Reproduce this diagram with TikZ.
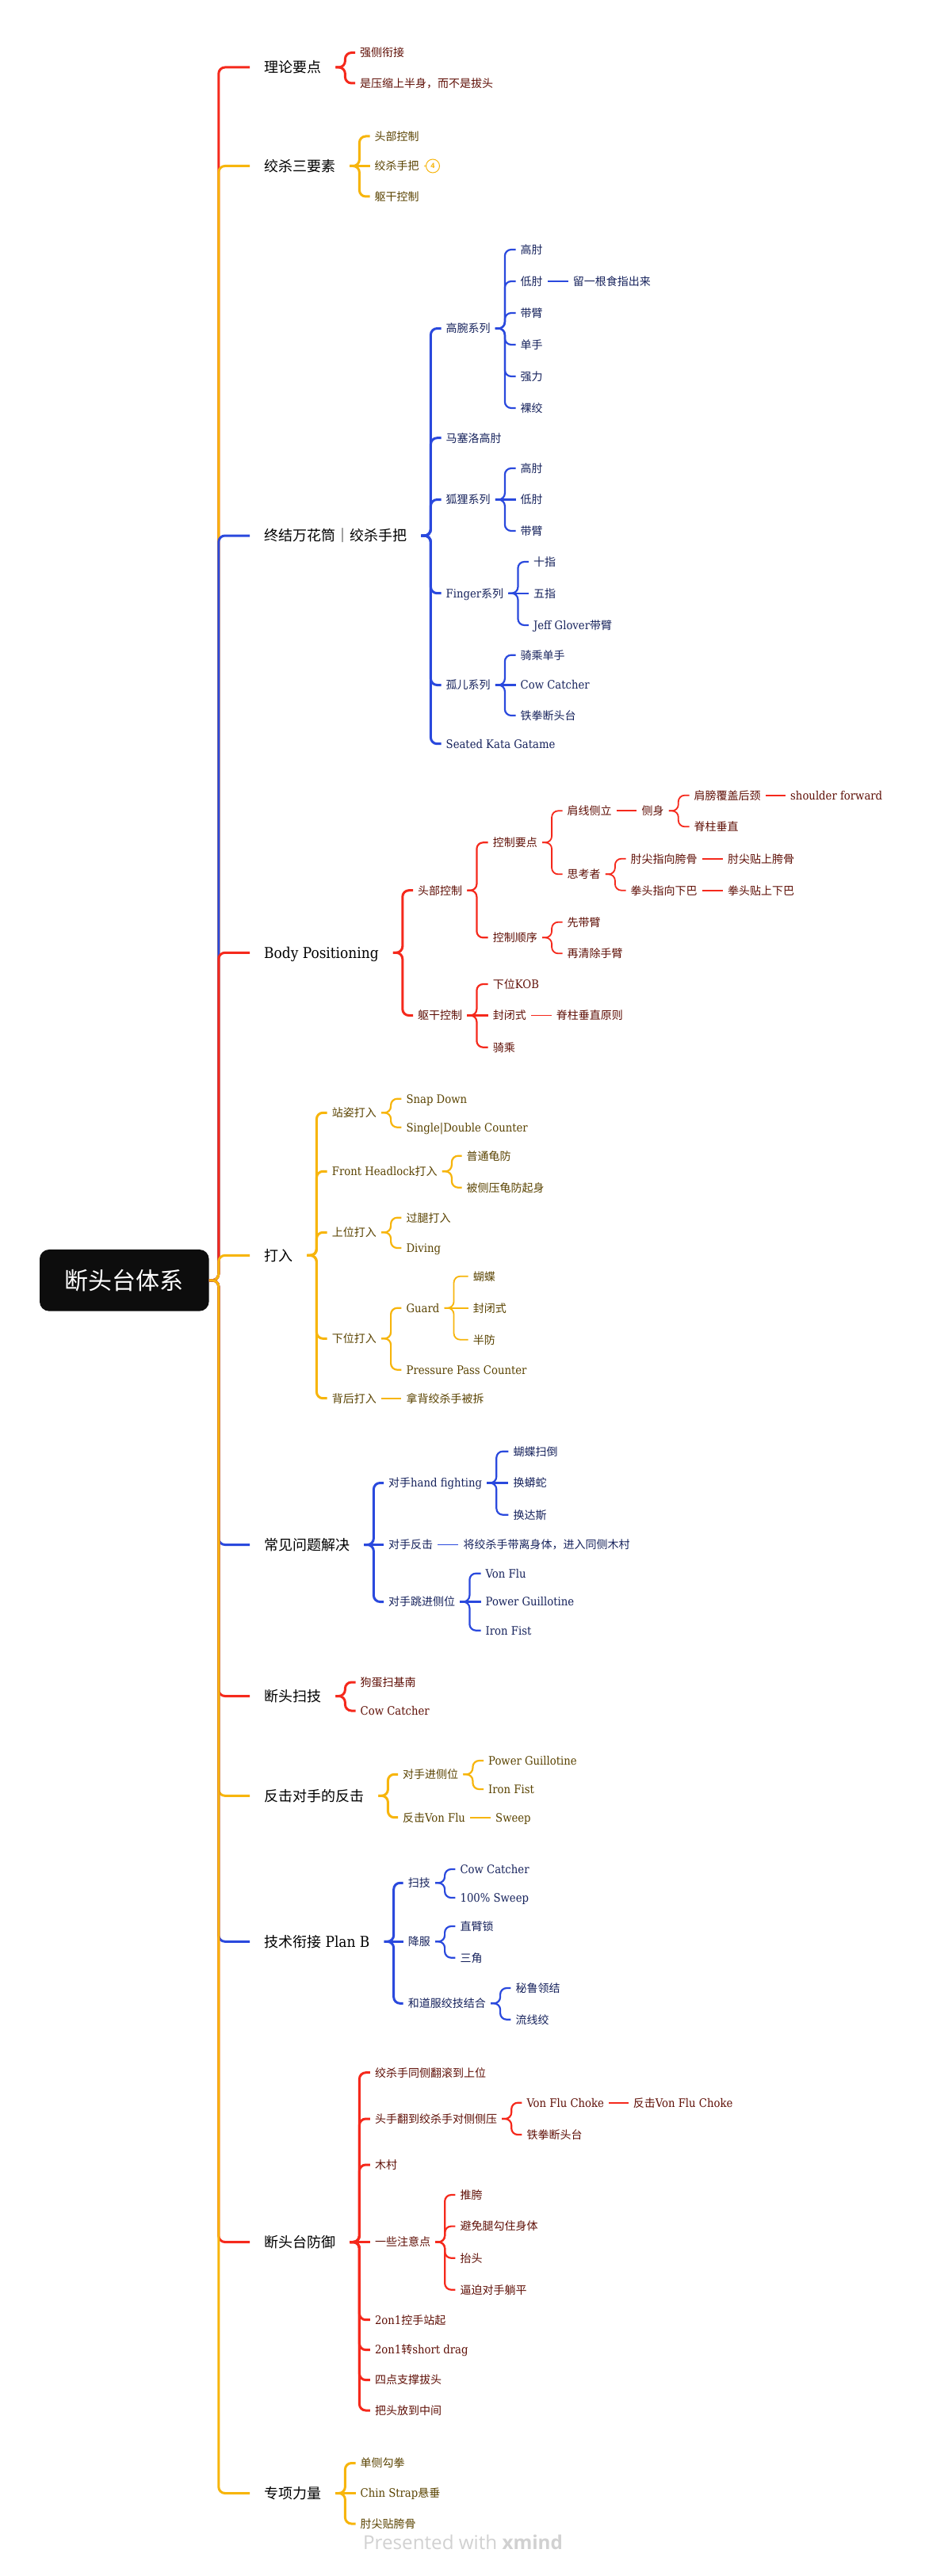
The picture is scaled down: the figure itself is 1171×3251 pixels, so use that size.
\documentclass[tikz,border=0pt]{standalone}
\usepackage{fontspec}
\setmainfont{Noto Sans CJK SC}
\newfontfamily\latfont[Scale=1.05]{DejaVu Serif Condensed}
\newfontfamily\wmfont{Open Sans}
\newcommand{\lat}[1]{{\latfont #1}}
\definecolor{cR}{HTML}{F5291C}
\definecolor{cY}{HTML}{F7B50C}
\definecolor{cB}{HTML}{2A49DD}
\definecolor{tR}{HTML}{5F0F06}
\definecolor{tY}{HTML}{5A4300}
\definecolor{tB}{HTML}{16225C}
\tikzset{
 sub/.style={anchor=west,inner xsep=6pt,inner ysep=0pt,font=\fontsize{14}{16}\selectfont,text height=12.3pt,text depth=1.7pt},
 lvA/.style={anchor=west,inner xsep=18pt,inner ysep=0pt,font=\fontsize{18}{20}\selectfont,text height=15.8pt,text depth=2.2pt,text=black},
 nR/.style={sub,text=tR}, nY/.style={sub,text=tY}, nB/.style={sub,text=tB},
 wA/.style={line width=3pt,rounded corners=8pt},
 wB/.style={line width=2.2pt,rounded corners=8pt},
 wC/.style={line width=1.8pt,rounded corners=8pt},
 rootbox/.style={fill=black!95,rounded corners=12pt,text=white,minimum width=213.6pt,minimum height=77.7pt,inner sep=0pt,font=\fontsize{30}{34}\selectfont},
 badge/.style={circle,draw=cY,line width=1pt,minimum size=17pt,inner sep=0pt,text=cY,font=\wmfont\bfseries\fontsize{9}{10}\selectfont},
}
\newcommand{\cn}[3]{\draw[#1] (#2.east) -- ++(12,0) |- (#3.west);}
\newcommand{\sn}[3]{\draw[#1] (#2.east) -- (#3.west);}
\begin{document}
\begin{tikzpicture}[x=1pt,y=-1pt]
\path[use as bounding box,fill=white] (0,0) rectangle (1171,3251);
\node[rootbox] (root) at (156.8,1615.8) {断头台体系};
% level 1
\node[lvA] (a) at (315,85) {理论要点};
\node[lvA] (b) at (315,209.5) {绞杀三要素};
\node[lvA] (c) at (315,676) {终结万花筒｜绞杀手把};
\node[lvA] (d) at (315,1202.3) {\lat{Body Positioning}};
\node[lvA] (e) at (315,1584.3) {打入};
\node[lvA] (f) at (315,1949.5) {常见问题解决};
\node[lvA] (g) at (315,2140.5) {断头扫技};
\node[lvA] (h) at (315,2266.3) {反击对手的反击};
\node[lvA] (i) at (315,2450.3) {技术衔接\lat{ Plan B}};
\node[lvA] (j) at (315,2829.5) {断头台防御};
\node[lvA] (k) at (315,3146.5) {专项力量};
\cn{cR,wA}{root}{a}
\cn{cY,wA}{root}{b}
\cn{cB,wA}{root}{c}
\cn{cR,wA}{root}{d}
\cn{cY,wA}{root}{e}
\cn{cB,wA}{root}{f}
\cn{cR,wA}{root}{g}
\cn{cY,wA}{root}{h}
\cn{cB,wA}{root}{i}
\cn{cR,wA}{root}{j}
\cn{cY,wA}{root}{k}
% a
\node[nR] (a1) at (448,66.5) {强侧衔接};
\node[nR] (a2) at (448,105) {是压缩上半身，而不是拔头};
\cn{cR,wA}{a}{a1}\cn{cR,wA}{a}{a2}
% b
\node[nY] (b1) at (466.5,172) {头部控制};
\node[nY] (b2) at (466.5,209.5) {绞杀手把};
\node[nY] (b3) at (466.5,248) {躯干控制};
\node[badge] (bd) at (546,209.5) {4};
\cn{cY,wA}{b}{b1}\sn{cY,wA}{b}{b2}\cn{cY,wA}{b}{b3}
\sn{cY,line width=1.5pt}{b2}{bd}
% c
\node[nB] (c1) at (556.5,414.5) {高腕系列};
\node[nB] (c2) at (556.5,552.7) {马塞洛高肘};
\node[nB] (c3) at (556.5,630.5) {狐狸系列};
\node[nB] (c4) at (556.5,748.7) {\lat{Finger}系列};
\node[nB] (c5) at (556.5,864.5) {孤儿系列};
\node[nB] (c6) at (556.5,938.7) {\lat{Seated Kata Gatame}};
\foreach \n in {c1,c2,c3,c4,c5,c6}{\cn{cB,wA}{c}{\n}}
\node[nB] (c11) at (650.5,315) {高肘};
\node[nB] (c12) at (650.5,355) {低肘};
\node[nB] (c13) at (650.5,395) {带臂};
\node[nB] (c14) at (650.5,435) {单手};
\node[nB] (c15) at (650.5,475) {强力};
\node[nB] (c16) at (650.5,515) {裸绞};
\node[nB] (c121) at (716.7,355) {留一根食指出来};
\foreach \n in {c11,c12,c13,c14,c15,c16}{\cn{cB,wB}{c1}{\n}}
\sn{cB,wC}{c12}{c121}
\node[nB] (c31) at (650.5,591) {高肘};
\node[nB] (c32) at (650.5,630.5) {低肘};
\node[nB] (c33) at (650.5,670) {带臂};
\cn{cB,wB}{c3}{c31}\sn{cB,wB}{c3}{c32}\cn{cB,wB}{c3}{c33}
\node[nB] (c41) at (666.8,709) {十指};
\node[nB] (c42) at (666.8,748.7) {五指};
\node[nB] (c43) at (666.8,789) {\lat{Jeff Glover}带臂};
\cn{cB,wB}{c4}{c41}\sn{cB,wB}{c4}{c42}\cn{cB,wB}{c4}{c43}
\node[nB] (c51) at (650.5,826.7) {骑乘单手};
\node[nB] (c52) at (650.5,864.5) {\lat{Cow Catcher}};
\node[nB] (c53) at (650.5,903) {铁拳断头台};
\cn{cB,wB}{c5}{c51}\sn{cB,wB}{c5}{c52}\cn{cB,wB}{c5}{c53}
% d
\node[nR] (d1) at (521,1123.7) {头部控制};
\node[nR] (d2) at (521,1281.5) {躯干控制};
\cn{cR,wA}{d}{d1}\cn{cR,wA}{d}{d2}
\node[nR] (d11) at (615.7,1063.3) {控制要点};
\node[nR] (d12) at (615.7,1183.3) {控制顺序};
\cn{cR,wB}{d1}{d11}\cn{cR,wB}{d1}{d12}
\node[nR] (d111) at (709.5,1023.3) {肩线侧立};
\node[nR] (d112) at (709.5,1103.3) {思考者};
\cn{cR,wC}{d11}{d111}\cn{cR,wC}{d11}{d112}
\node[nR] (d1111) at (803.4,1023.3) {侧身};
\sn{cR,wC}{d111}{d1111}
\node[nR] (d11111) at (869.5,1003.7) {肩膀覆盖后颈};
\node[nR] (d11112) at (869.5,1043.3) {脊柱垂直};
\cn{cR,wC}{d1111}{d11111}\cn{cR,wC}{d1111}{d11112}
\node[nR] (sf) at (991,1003.7) {\lat{shoulder forward}};
\sn{cR,wC}{d11111}{sf}
\node[nR] (d1121) at (789.5,1083.7) {肘尖指向胯骨};
\node[nR] (d1122) at (789.5,1123.7) {拳头指向下巴};
\cn{cR,wC}{d112}{d1121}\cn{cR,wC}{d112}{d1122}
\node[nR] (d11211) at (911.8,1083.7) {肘尖贴上胯骨};
\node[nR] (d11221) at (911.8,1123.7) {拳头贴上下巴};
\sn{cR,wC}{d1121}{d11211}\sn{cR,wC}{d1122}{d11221}
\node[nR] (d121) at (709.5,1163.7) {先带臂};
\node[nR] (d122) at (709.5,1203.3) {再清除手臂};
\cn{cR,wC}{d12}{d121}\cn{cR,wC}{d12}{d122}
\node[nR] (d21) at (615.7,1242) {下位\lat{KOB}};
\node[nR] (d22) at (615.7,1281.5) {封闭式};
\node[nR] (d23) at (615.7,1321.7) {骑乘};
\cn{cR,wB}{d2}{d21}\sn{cR,wB}{d2}{d22}\cn{cR,wB}{d2}{d23}
\node[nR] (d221) at (695.7,1281.5) {脊柱垂直原则};
\sn{cR,wC}{d22}{d221}
% e
\node[nY] (e1) at (412.7,1404.3) {站姿打入};
\node[nY] (e2) at (412.7,1478.3) {\lat{Front Headlock}打入};
\node[nY] (e3) at (412.7,1555.3) {上位打入};
\node[nY] (e4) at (412.7,1689.3) {下位打入};
\node[nY] (e5) at (412.7,1764.7) {背后打入};
\foreach \n in {e1,e2,e3,e4,e5}{\cn{cY,wA}{e}{\n}}
\node[nY] (e11) at (506.4,1386.7) {\lat{Snap Down}};
\node[nY] (e12) at (506.4,1422.7) {\lat{Single|Double Counter}};
\cn{cY,wB}{e1}{e11}\cn{cY,wB}{e1}{e12}
\node[nY] (e21) at (582.5,1458.7) {普通龟防};
\node[nY] (e22) at (582.5,1498.7) {被侧压龟防起身};
\cn{cY,wB}{e2}{e21}\cn{cY,wB}{e2}{e22}
\node[nY] (e31) at (506.4,1536.7) {过腿打入};
\node[nY] (e32) at (506.4,1575) {\lat{Diving}};
\cn{cY,wB}{e3}{e31}\cn{cY,wB}{e3}{e32}
\node[nY] (e41) at (506.4,1650.7) {\lat{Guard}};
\node[nY] (e42) at (506.4,1728.7) {\lat{Pressure Pass Counter}};
\cn{cY,wB}{e4}{e41}\cn{cY,wB}{e4}{e42}
\node[nY] (e411) at (590.7,1610.7) {蝴蝶};
\node[nY] (e412) at (590.7,1650.7) {封闭式};
\node[nY] (e413) at (590.7,1690.7) {半防};
\cn{cY,wC}{e41}{e411}\sn{cY,wC}{e41}{e412}\cn{cY,wC}{e41}{e413}
\node[nY] (e51) at (506.4,1764.7) {拿背绞杀手被拆};
\sn{cY,wB}{e5}{e51}
% f
\node[nB] (f1) at (484,1871.5) {对手\lat{hand fighting}};
\node[nB] (f2) at (484,1949.5) {对手反击};
\node[nB] (f3) at (484,2021.5) {对手跳进侧位};
\cn{cB,wA}{f}{f1}\sn{cB,wA}{f}{f2}\cn{cB,wA}{f}{f3}
\node[nB] (f11) at (641.3,1831.7) {蝴蝶扫倒};
\node[nB] (f12) at (641.3,1871.5) {换蟒蛇};
\node[nB] (f13) at (641.3,1911.7) {换达斯};
\cn{cB,wB}{f1}{f11}\sn{cB,wB}{f1}{f12}\cn{cB,wB}{f1}{f13}
\node[nB] (f21) at (578.4,1949.5) {将绞杀手带离身体，进入同侧木村};
\sn{cB,wC}{f2}{f21}
\node[nB] (f31) at (606.5,1985.7) {\lat{Von Flu}};
\node[nB] (f32) at (606.5,2021.5) {\lat{Power Guillotine}};
\node[nB] (f33) at (606.5,2057.7) {\lat{Iron Fist}};
\cn{cB,wB}{f3}{f31}\sn{cB,wB}{f3}{f32}\cn{cB,wB}{f3}{f33}
% g
\node[nR] (g1) at (448.5,2123) {狗蛋扫基南};
\node[nR] (g2) at (448.5,2159) {\lat{Cow Catcher}};
\cn{cR,wA}{g}{g1}\cn{cR,wA}{g}{g2}
% h
\node[nY] (h1) at (502,2239.3) {对手进侧位};
\node[nY] (h2) at (502,2293.7) {反击\lat{Von Flu}};
\cn{cY,wA}{h}{h1}\cn{cY,wA}{h}{h2}
\node[nY] (h11) at (610,2222) {\lat{Power Guillotine}};
\node[nY] (h12) at (610,2258) {\lat{Iron Fist}};
\cn{cY,wB}{h1}{h11}\cn{cY,wB}{h1}{h12}
\node[nY] (h21) at (619,2293.7) {\lat{Sweep}};
\sn{cY,wC}{h2}{h21}
% i
\node[nB] (i1) at (508.7,2376.3) {扫技};
\node[nB] (i2) at (508.7,2450.3) {降服};
\node[nB] (i3) at (508.7,2528.3) {和道服绞技结合};
\cn{cB,wA}{i}{i1}\sn{cB,wA}{i}{i2}\cn{cB,wA}{i}{i3}
\node[nB] (i11) at (574.4,2359) {\lat{Cow Catcher}};
\node[nB] (i12) at (574.4,2395) {\lat{100\% Sweep}};
\cn{cB,wB}{i1}{i11}\cn{cB,wB}{i1}{i12}
\node[nB] (i21) at (574.4,2431) {直臂锁};
\node[nB] (i22) at (574.4,2470.7) {三角};
\cn{cB,wB}{i2}{i21}\cn{cB,wB}{i2}{i22}
\node[nB] (i31) at (644.4,2509) {秘鲁领结};
\node[nB] (i32) at (644.4,2548.7) {流线绞};
\cn{cB,wB}{i3}{i31}\cn{cB,wB}{i3}{i32}
% j
\node[nR] (j1) at (466.8,2615.7) {绞杀手同侧翻滚到上位};
\node[nR] (j2) at (466.8,2674) {头手翻到绞杀手对侧侧压};
\node[nR] (j3) at (466.8,2732) {木村};
\node[nR] (j4) at (466.8,2829.5) {一些注意点};
\node[nR] (j5) at (466.8,2927.7) {\lat{2on1}控手站起};
\node[nR] (j6) at (466.8,2965.6) {\lat{2on1}转\lat{short drag}};
\node[nR] (j7) at (466.8,3003.6) {四点支撑拔头};
\node[nR] (j8) at (466.8,3042) {把头放到中间};
\cn{cR,wA}{j}{j1}\cn{cR,wA}{j}{j2}\cn{cR,wA}{j}{j3}\sn{cR,wA}{j}{j4}
\cn{cR,wA}{j}{j5}\cn{cR,wA}{j}{j6}\cn{cR,wA}{j}{j7}\cn{cR,wA}{j}{j8}
\node[nR] (j21) at (658.3,2653.7) {\lat{Von Flu Choke}};
\node[nR] (j22) at (658.3,2694) {铁拳断头台};
\cn{cR,wB}{j2}{j21}\cn{cR,wB}{j2}{j22}
\node[nR] (j211) at (792.7,2653.7) {反击\lat{Von Flu Choke}};
\sn{cR,wC}{j21}{j211}
\node[nR] (j41) at (574.4,2770) {推胯};
\node[nR] (j42) at (574.4,2809.6) {避免腿勾住身体};
\node[nR] (j43) at (574.4,2849.7) {抬头};
\node[nR] (j44) at (574.4,2889.7) {逼迫对手躺平};
\cn{cR,wB}{j4}{j41}\cn{cR,wB}{j4}{j42}\cn{cR,wB}{j4}{j43}\cn{cR,wB}{j4}{j44}
% k
\node[nY] (k1) at (448.5,3108.5) {单侧勾拳};
\node[nY] (k2) at (448.5,3146.5) {\lat{Chin Strap}悬垂};
\node[nY] (k3) at (448.5,3185) {肘尖贴胯骨};
\cn{cY,wA}{k}{k1}\sn{cY,wA}{k}{k2}\cn{cY,wA}{k}{k3}
% watermark
\node[text=black!18,inner sep=0pt,font=\wmfont\fontsize{24.2}{28}\selectfont] (wm) at (584,3208) {Presented with \textbf{xmind}};
\end{tikzpicture}
\end{document}
